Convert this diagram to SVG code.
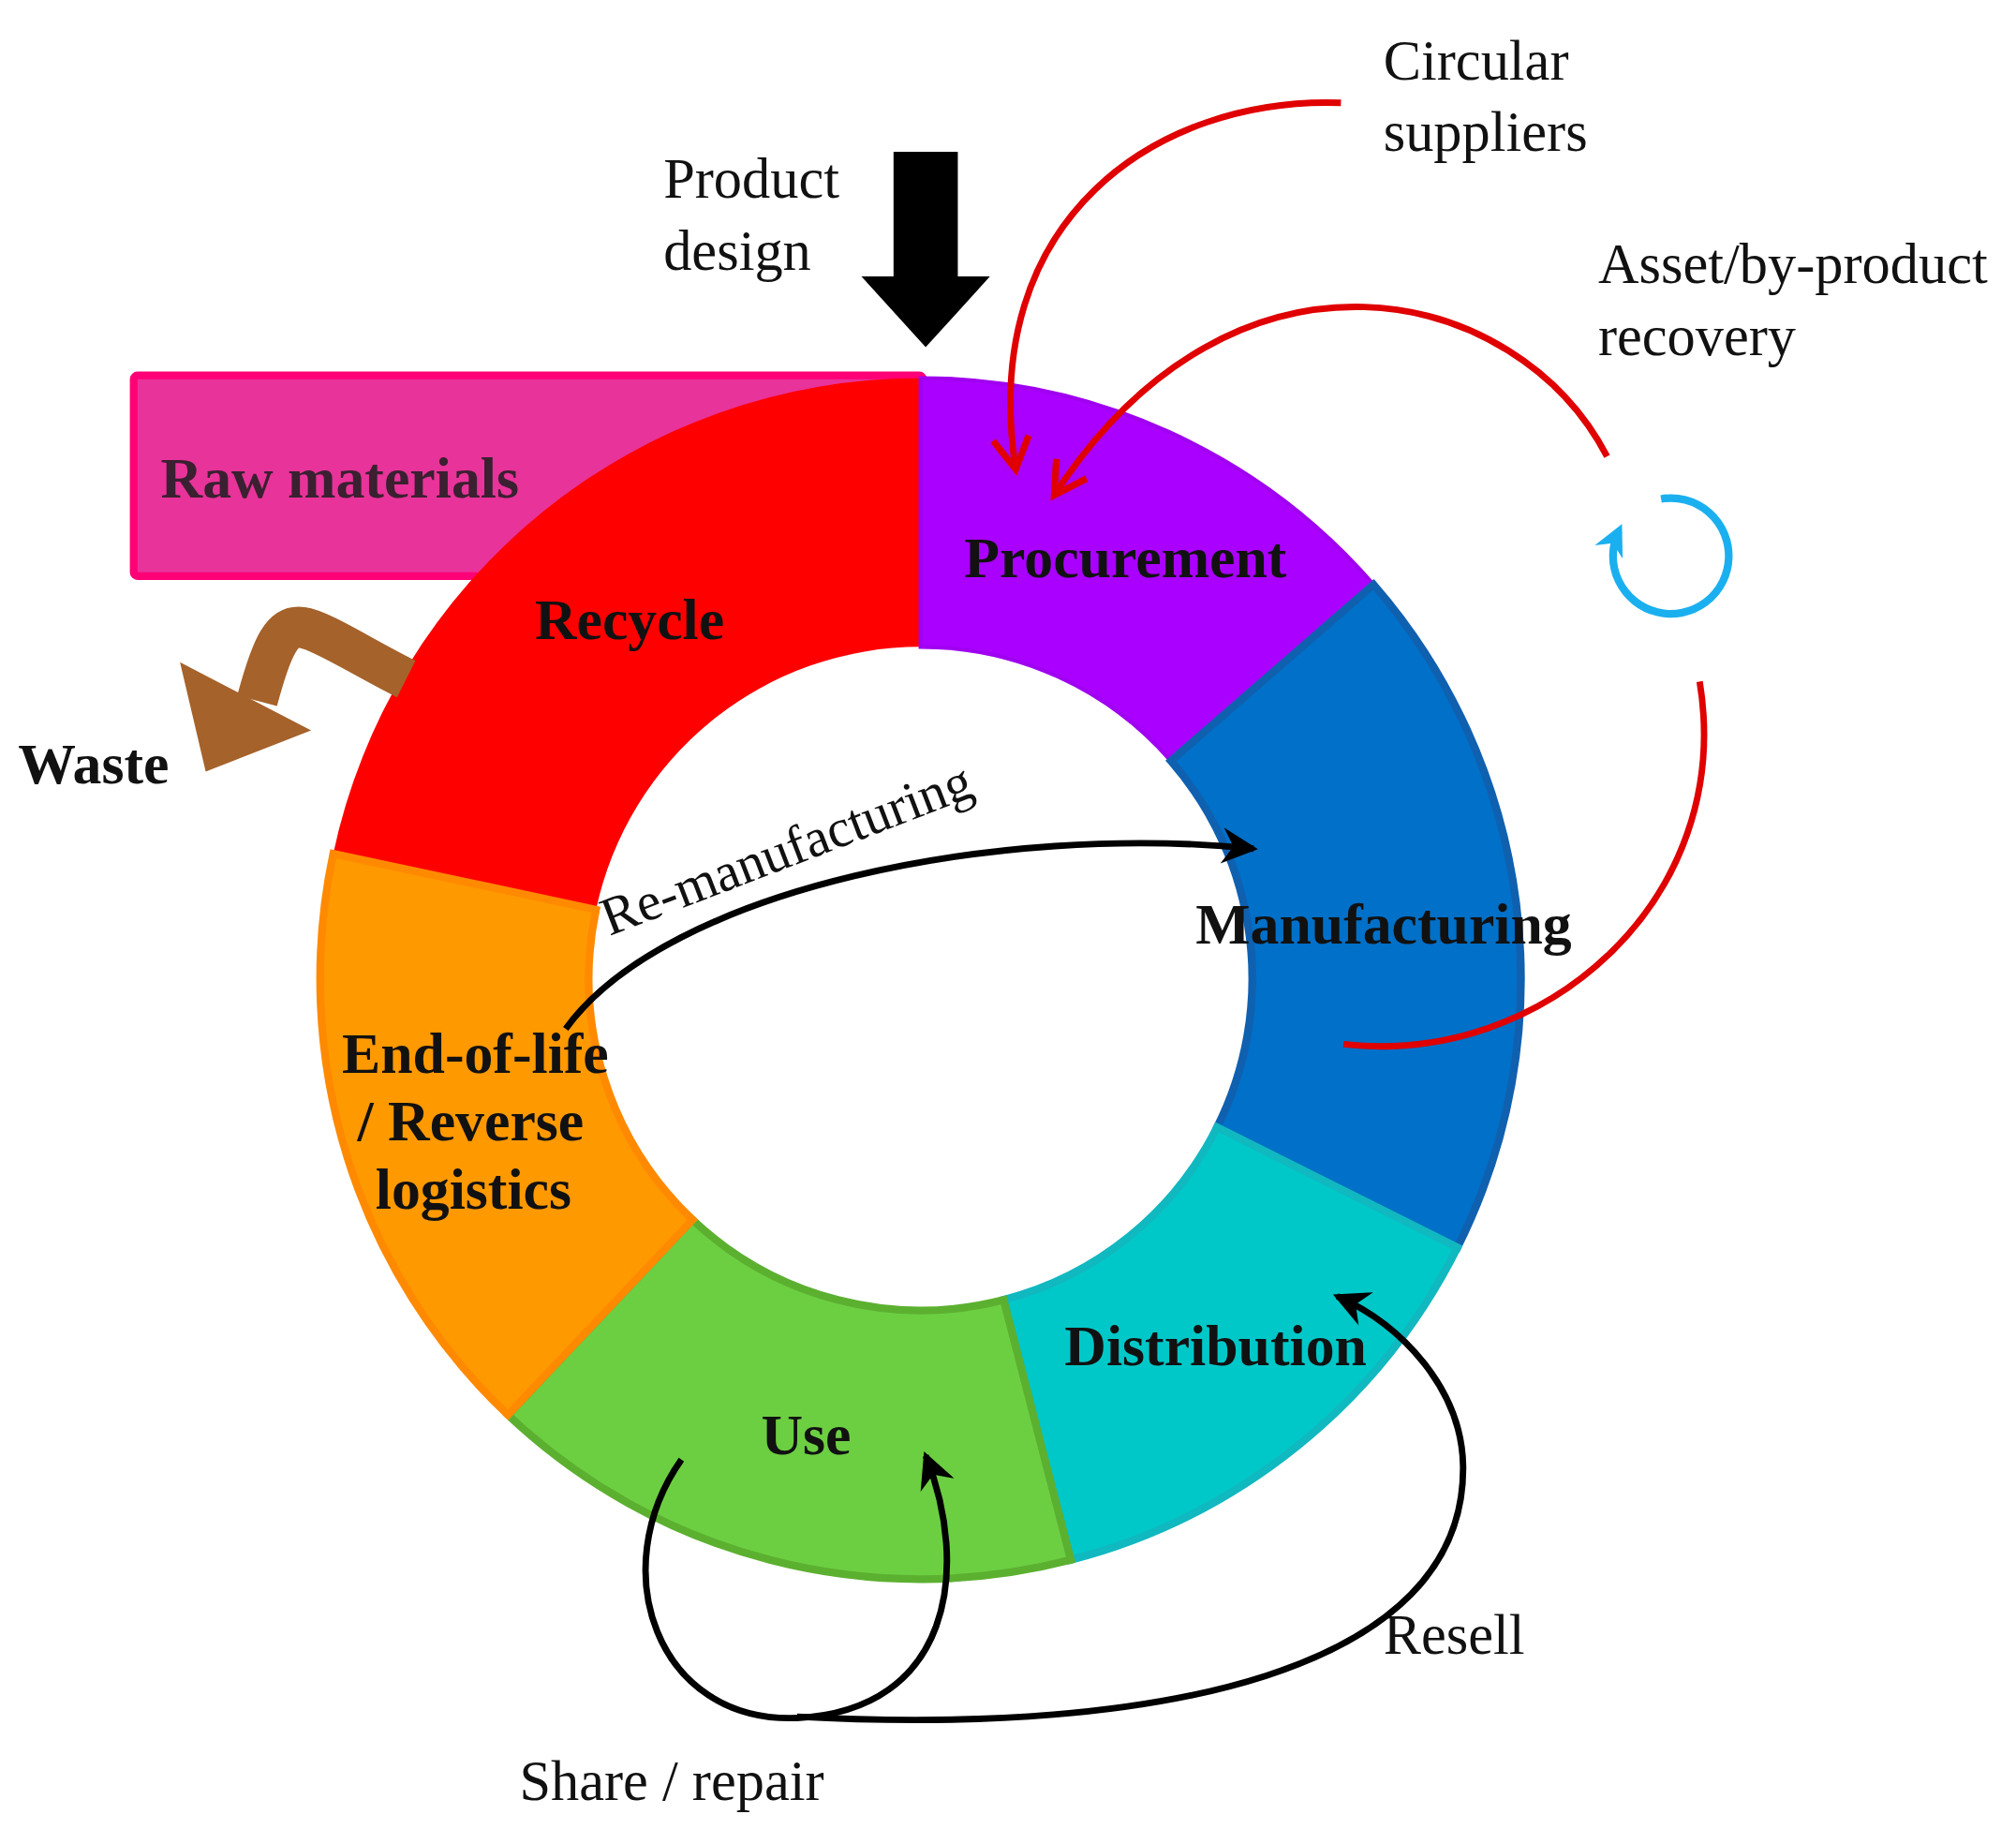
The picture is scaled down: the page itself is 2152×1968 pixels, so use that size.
<svg xmlns="http://www.w3.org/2000/svg" width="2152" height="1968" viewBox="0 0 2152 1968">
<defs>
<style>
text{font-family:"Liberation Serif","Times New Roman",serif;font-size:44px;fill:#111}
.b{font-weight:bold;font-size:45px}
.red{fill:none;stroke:#e00000;stroke-width:5}
.blk{fill:none;stroke:#000;stroke-width:5}
</style>
<marker id="ar" viewBox="0 0 20 20" refX="16" refY="10" markerWidth="7" markerHeight="7" orient="auto" markerUnits="strokeWidth"><path d="M2,2 L16,10 L2,18" fill="none" stroke="#e00000" stroke-width="3"/></marker>
<marker id="ak" viewBox="0 0 20 20" refX="16" refY="10" markerWidth="7" markerHeight="7" orient="auto" markerUnits="strokeWidth"><path d="M2,2 L18,10 L2,18 L7,10 Z" fill="#000"/></marker>
<marker id="ab" viewBox="0 0 20 20" refX="14" refY="10" markerWidth="5" markerHeight="5" orient="auto" markerUnits="strokeWidth"><path d="M2,2 L18,10 L2,18 L7,10 Z" fill="#1ab0f0"/></marker>
</defs>
<rect width="2152" height="1968" fill="#fff"/>
<g transform="scale(1.3724)">
<g id="raw"><rect x="104" y="292" width="614" height="156" rx="3" fill="#e8339a" stroke="#ff0077" stroke-width="6"/><text x="125" y="387" class="b" style="fill:#3a2030">Raw materials</text></g>
<g id="recycle"><path d="M259.2,663.9 A467,467 0 0 1 716,294 L716,503 A258,258 0 0 0 463.6,707.4 Z" fill="#ff0000"/><text x="416" y="497" class="b">Recycle</text></g>
<g id="procurement"><path d="M716,294 A467,467 0 0 1 1068.4,454.6 L910.7,591.7 A258,258 0 0 0 716,503 Z" fill="#aa00ff" stroke="#a000f0" stroke-width="3"/><text x="750" y="449" class="b">Procurement</text></g>
<g id="manufacturing"><path d="M1068.4,454.6 A467,467 0 0 1 1133.6,970.1 L946.7,876.5 A258,258 0 0 0 910.7,591.7 Z" fill="#0070c8" stroke="#1060b0" stroke-width="6"/><text x="930" y="734" class="b">Manufacturing</text></g>
<g id="distribution"><path d="M1133.6,970.1 A467,467 0 0 1 832.9,1213.1 L780.6,1010.8 A258,258 0 0 0 946.7,876.5 Z" fill="#00c8c8" stroke="#10b8c0" stroke-width="6"/><text x="828" y="1062" class="b">Distribution</text></g>
<g id="use"><path d="M832.9,1213.1 A467,467 0 0 1 395.1,1100.3 L538.7,948.5 A258,258 0 0 0 780.6,1010.8 Z" fill="#6ccf42" stroke="#5cb030" stroke-width="6"/><text x="592" y="1131" class="b">Use</text></g>
<g id="eol"><path d="M395.1,1100.3 A467,467 0 0 1 259.2,663.9 L463.6,707.4 A258,258 0 0 0 538.7,948.5 Z" fill="#ff9900" stroke="#ff8a00" stroke-width="6"/><text x="266" y="834" class="b">End-of-life</text><text x="278" y="887" class="b">/ Reverse</text><text x="292" y="940" class="b">logistics</text></g>
<g id="product-design"><path d="M695,118 H745 V215 H770 L720,270 L670,215 H695 Z" fill="#000"/><text x="516" y="154">Product</text><text x="516" y="210">design</text></g>
<g id="waste"><path d="M316,528 C280,510 250,490 235,488 C220,486 212,500 200,545" fill="none" stroke="#a5622a" stroke-width="32" stroke-linejoin="round"/><path d="M140,515 L242,568 L160,600 Z" fill="#a5622a"/><text x="14" y="609" class="b">Waste</text></g>
<g id="labels"><text x="1076" y="62">Circular</text><text x="1076" y="117">suppliers</text><text x="1243" y="220">Asset/by-product</text><text x="1243" y="276">recovery</text><text x="1076" y="1286">Resell</text><text x="404" y="1400">Share / repair</text><text transform="translate(474,728) rotate(-21)" style="font-size:42px">Re-manufacturing</text></g>
<g id="connectors">
<path class="red" d="M1043,80 C900,75 760,170 790,365" marker-end="url(#ar)"/>
<path class="red" d="M1250,355 C1180,220 960,170 820,385" marker-end="url(#ar)"/>
<path class="red" d="M1322,530 C1350,700 1200,830 1045,812"/>
<path d="M1292,388 A45,45 0 1 1 1259,413" fill="none" stroke="#1ab0f0" stroke-width="6" marker-end="url(#ab)"/>
<path class="blk" d="M440,800 C520,690 780,640 975,660" marker-end="url(#ak)"/>
<path class="blk" d="M620,1335 C900,1350 1140,1300 1138,1140 C1137,1080 1090,1030 1040,1008" marker-end="url(#ak)"/>
<path class="blk" d="M530,1135 C470,1220 510,1340 620,1336 C740,1330 755,1220 720,1132" marker-end="url(#ak)"/>
</g>
</g>
</svg>
